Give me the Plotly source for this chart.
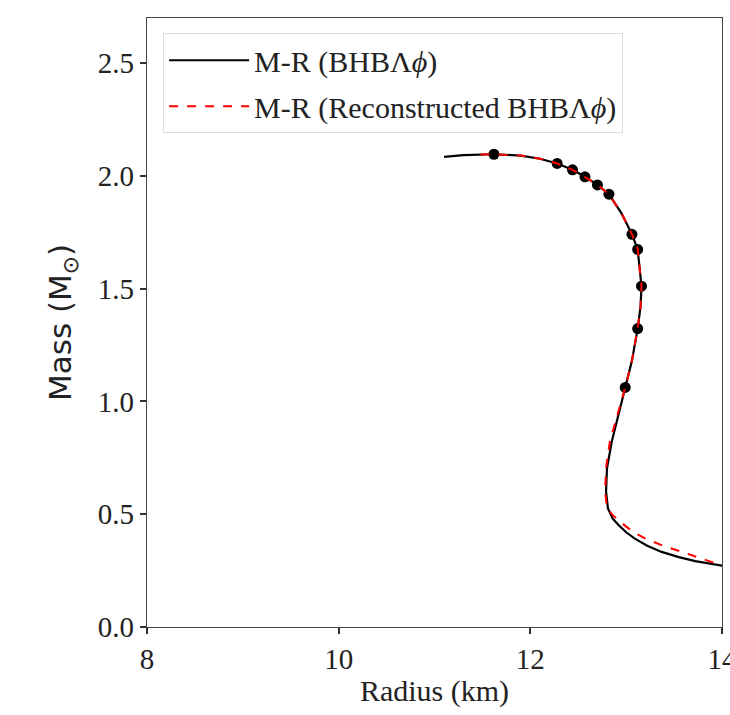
import plotly.graph_objects as go

# Original M-R curve (BHBΛφ)
r_orig = [11.10, 11.30, 11.62, 11.90, 12.10, 12.28, 12.44, 12.57, 12.70, 12.82, 12.95, 13.06, 13.12, 13.16, 13.15, 13.12, 13.06, 12.99, 12.92, 12.85, 12.80, 12.79, 12.81, 12.86, 12.92, 13.00, 13.09, 13.22, 13.37, 13.55, 13.72, 13.88, 14.00, 14.20]
m_orig = [2.084, 2.092, 2.096, 2.090, 2.076, 2.055, 2.027, 1.996, 1.960, 1.919, 1.835, 1.741, 1.674, 1.511, 1.420, 1.323, 1.180, 1.062, 0.940, 0.822, 0.704, 0.600, 0.526, 0.480, 0.452, 0.420, 0.392, 0.360, 0.333, 0.310, 0.292, 0.280, 0.271, 0.258]

# Reconstructed M-R curve
r_rec = [11.48, 11.62, 11.90, 12.10, 12.28, 12.44, 12.57, 12.70, 12.82, 12.95, 13.06, 13.12, 13.16, 13.15, 13.12, 13.06, 12.99, 12.91, 12.83, 12.79, 12.78, 12.80, 12.86, 12.92, 13.00, 13.10, 13.22, 13.37, 13.55, 13.72, 13.88, 14.00, 14.20]
m_rec = [2.095, 2.096, 2.090, 2.076, 2.055, 2.027, 1.996, 1.960, 1.919, 1.835, 1.741, 1.674, 1.511, 1.420, 1.323, 1.180, 1.062, 0.940, 0.822, 0.704, 0.600, 0.530, 0.495, 0.474, 0.445, 0.415, 0.388, 0.363, 0.336, 0.311, 0.290, 0.274, 0.255]

# Sample points
r_pts = [11.62, 12.28, 12.44, 12.57, 12.70, 12.82, 13.06, 13.12, 13.16, 13.12, 12.99]
m_pts = [2.096, 2.055, 2.027, 1.996, 1.960, 1.919, 1.741, 1.674, 1.511, 1.323, 1.062]

x_ticks = [8, 10, 12, 14]
y_ticks = [0, 0.5, 1.0, 1.5, 2.0, 2.5]

serif = "Liberation Serif"

fig = go.Figure()
fig.add_trace(go.Scatter(x=r_orig, y=m_orig, mode="lines",
                         line=dict(color="black", width=2.2),
                         legendgroup="a",
                         name="M-R (BHBΛ<i>ϕ</i>)"))
fig.add_trace(go.Scatter(x=r_pts, y=m_pts, mode="markers",
                         marker=dict(color="black", size=11),
                         legendgroup="a",
                         showlegend=False))
fig.add_trace(go.Scatter(x=r_rec, y=m_rec, mode="lines",
                         line=dict(color="red", width=2, dash="dash"),
                         legendgroup="b",
                         name="M-R (Reconstructed BHBΛ<i>ϕ</i>)"))

axis_common = dict(showgrid=False, zeroline=False, showline=True, linecolor="#444",
                   linewidth=1.3, mirror=True, ticks="outside", ticklen=6,
                   tickwidth=2, tickcolor="#333", ticklabeloverflow="allow",
                   automargin=False,
                   tickfont=dict(family=serif, size=29, color="#222"))

fig.update_layout(
    width=730, height=715,
    margin=dict(l=147, r=8, t=18, b=88),
    plot_bgcolor="white", paper_bgcolor="white",
    xaxis=dict(range=[8, 14], tickvals=x_ticks, ticklabelstandoff=0,
               title=dict(text="Radius (km)", font=dict(family=serif, size=30, color="#222"), standoff=6),
               **axis_common),
    yaxis=dict(range=[0, 2.7], tickvals=y_ticks, ticklabelstandoff=0,
               tickformat=".1f",
               title=dict(text="Mass (M<sub>⊙</sub>)", font=dict(family="DejaVu Sans", size=31, color="#222"), standoff=16),
               **axis_common),
    legend=dict(x=0.028, y=0.975, xanchor="left", yanchor="top",
                bgcolor="rgba(255,255,255,0.9)", bordercolor="#ddd", borderwidth=1,
                font=dict(family=serif, size=30, color="#222"),
                itemwidth=80, tracegroupgap=4),
    showlegend=True,
)

fig.write_html("out.html")
